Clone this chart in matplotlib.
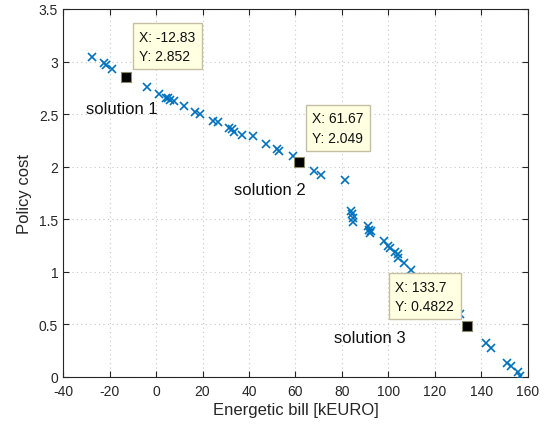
import matplotlib
matplotlib.use("Agg")
import matplotlib.pyplot as plt

plt.rcParams['font.family'] = ['Liberation Sans', 'DejaVu Sans']

# Pareto front: energetic bill vs policy cost
bill = [-27.4, -22.4, -21.4, -19.0, -4.0, 1.1, 4.5, 5.0, 6.1, 7.8, 12.1, 16.7,
        18.8, 24.7, 26.8, 31.4, 32.6, 33.7, 37.1, 41.8, 47.4, 52.1, 53.1, 58.9,
        68.1, 71.1, 81.4, 83.8, 84.2, 84.8, 84.8, 91.0, 91.8, 92.5, 92.2, 98.2,
        99.9, 100.6, 102.8, 103.9, 104.2, 106.5, 109.6, 130.9, 142.0, 144.2,
        151.0, 152.5, 155.6, 156.7]
cost = [3.039, 2.991, 2.968, 2.928, 2.760, 2.690, 2.649, 2.652, 2.636, 2.621,
        2.573, 2.522, 2.497, 2.433, 2.421, 2.364, 2.355, 2.332, 2.303, 2.291,
        2.215, 2.167, 2.148, 2.104, 1.961, 1.925, 1.871, 1.581, 1.549, 1.509,
        1.476, 1.438, 1.400, 1.385, 1.369, 1.293, 1.248, 1.223, 1.191, 1.169,
        1.128, 1.084, 1.014, 0.599, 0.323, 0.276, 0.133, 0.102, 0.045, 0.012]

# Selected solutions
sol_names = ["solution 1", "solution 2", "solution 3"]
sol_x = [-12.83, 61.67, 133.7]
sol_y = [2.852, 2.049, 0.4822]
sol_tip_x = ["-12.83", "61.67", "133.7"]
sol_tip_y = ["2.852", "2.049", "0.4822"]

x_ticks = [-40, -20, 0, 20, 40, 60, 80, 100, 120, 140, 160]
y_ticks = [0, 0.5, 1, 1.5, 2, 2.5, 3, 3.5]

fig = plt.figure(figsize=(5.46, 4.27), dpi=100)
ax = fig.add_axes([0.1154, 0.1148, 0.8516, 0.8618])

ax.plot(bill, cost, linestyle='none', marker='x', color='#0072BD',
        markersize=5.5, markeredgewidth=1.2, zorder=3)
ax.plot(sol_x, sol_y, linestyle='none', marker='s', color='black',
        markeredgecolor='#8c8a6a', markersize=7.5, markeredgewidth=0.8, zorder=5)

ax.set_xlim(-40, 160)
ax.set_ylim(0, 3.5)
ax.set_xticks(x_ticks)
ax.set_yticks(y_ticks)
ax.set_xticklabels([f"{t:g}" for t in x_ticks])
ax.set_yticklabels([f"{t:g}" for t in y_ticks])
ax.tick_params(direction='in', length=4, width=0.8, labelsize=10,
               colors='#262626', top=True, right=True, labeltop=False,
               labelright=False)
ax.tick_params(axis='x', pad=5)
for s in ax.spines.values():
    s.set_color('#262626')
    s.set_linewidth(0.8)
ax.grid(True, linestyle=(0, (1, 3)), color='#c8c8c8', linewidth=0.8)
ax.set_axisbelow(True)

ax.set_xlabel("Energetic bill [kEURO]", fontsize=12, color='#262626', labelpad=3)
ax.set_ylabel("Policy cost", fontsize=12, color='#262626', labelpad=5)

tip_style = dict(boxstyle='square,pad=0.45', fc='#ffffe1', ec='#c4bfa3', lw=1.0)
tip_offsets = [(9.5, 10, 'left'), (9, 12, 'left'), (-9, 9.5, 'right')]
for xv, yv, tx, ty, (dx, dy, ha) in zip(sol_x, sol_y, sol_tip_x, sol_tip_y, tip_offsets):
    ax.annotate(f"X: {tx}\nY: {ty}", xy=(xv, yv), xytext=(dx, dy),
                textcoords='offset points', ha=ha, va='bottom', fontsize=10,
                multialignment='left', color='#111111', bbox=tip_style,
                zorder=6, linespacing=1.5)

label_pos = [(-29.9, 2.557), (33.5, 1.78), (76.4, 0.371)]
for name, (lx, ly) in zip(sol_names, label_pos):
    ax.text(lx, ly, name, fontsize=12, ha='left', va='center', color='#111111',
            zorder=6)

fig.savefig("out.png", dpi=100)
